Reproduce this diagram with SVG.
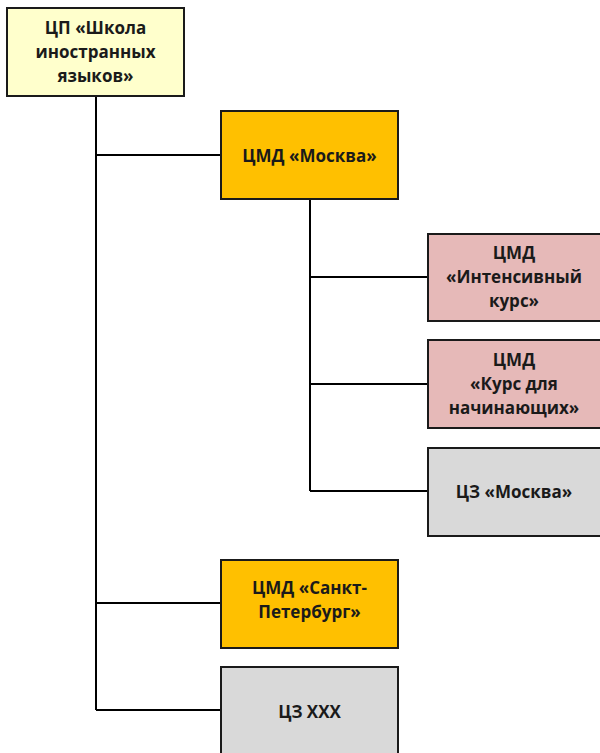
<svg xmlns="http://www.w3.org/2000/svg" width="600" height="753" viewBox="0 0 600 753">
  <style>
    .box { stroke: #1a1a1a; stroke-width: 2; }
    .root { fill: #FFFFCC; }
    .cmd { fill: #FFC000; }
    .sub { fill: #E6B9B8; }
    .cz { fill: #D9D9D9; }
    .lbl { font-family: "Open Sans", "Noto Sans", "DejaVu Sans", sans-serif; font-weight: bold; font-size: 17px; fill: #1a1a1a; text-anchor: middle; }
    .conn { stroke: #000; stroke-width: 2; fill: none; }
  </style>
  <rect width="600" height="753" fill="#fff"/>

  <g id="connectors">
    <path class="conn" d="M96 96 V710 M96 155 H221 M96 603 H221 M96 710 H221"/>
    <path class="conn" d="M310 200 V491 M310 277 H428 M310 384 H428 M310 491 H428"/>
  </g>

  <g id="node-root">
    <rect class="box root" x="7" y="8" width="177" height="88"/>
    <text class="lbl" x="95.5" y="34">ЦП «Школа</text>
    <text class="lbl" x="95.5" y="58">иностранных</text>
    <text class="lbl" x="95.5" y="82">языков»</text>
  </g>

  <g id="node-cmd-moscow">
    <rect class="box cmd" x="221" y="111" width="177" height="88"/>
    <text class="lbl" x="309.5" y="162">ЦМД «Москва»</text>
  </g>

  <g id="node-intensive">
    <rect class="box sub" x="428" y="234" width="176" height="87"/>
    <text class="lbl" x="514" y="259">ЦМД</text>
    <text class="lbl" x="514" y="283">«Интенсивный</text>
    <text class="lbl" x="514" y="307">курс»</text>
  </g>

  <g id="node-beginners">
    <rect class="box sub" x="428" y="340" width="176" height="88"/>
    <text class="lbl" x="514" y="366">ЦМД</text>
    <text class="lbl" x="514" y="390">«Курс для</text>
    <text class="lbl" x="514" y="414">начинающих»</text>
  </g>

  <g id="node-cz-moscow">
    <rect class="box cz" x="428" y="448" width="176" height="88"/>
    <text class="lbl" x="514" y="498">ЦЗ «Москва»</text>
  </g>

  <g id="node-cmd-spb">
    <rect class="box cmd" x="221" y="560" width="177" height="88"/>
    <text class="lbl" x="309.5" y="594">ЦМД «Санкт-</text>
    <text class="lbl" x="309.5" y="618">Петербург»</text>
  </g>

  <g id="node-cz-xxx">
    <rect class="box cz" x="221" y="667" width="177" height="95"/>
    <text class="lbl" x="309.5" y="718">ЦЗ ХХХ</text>
  </g>
</svg>
